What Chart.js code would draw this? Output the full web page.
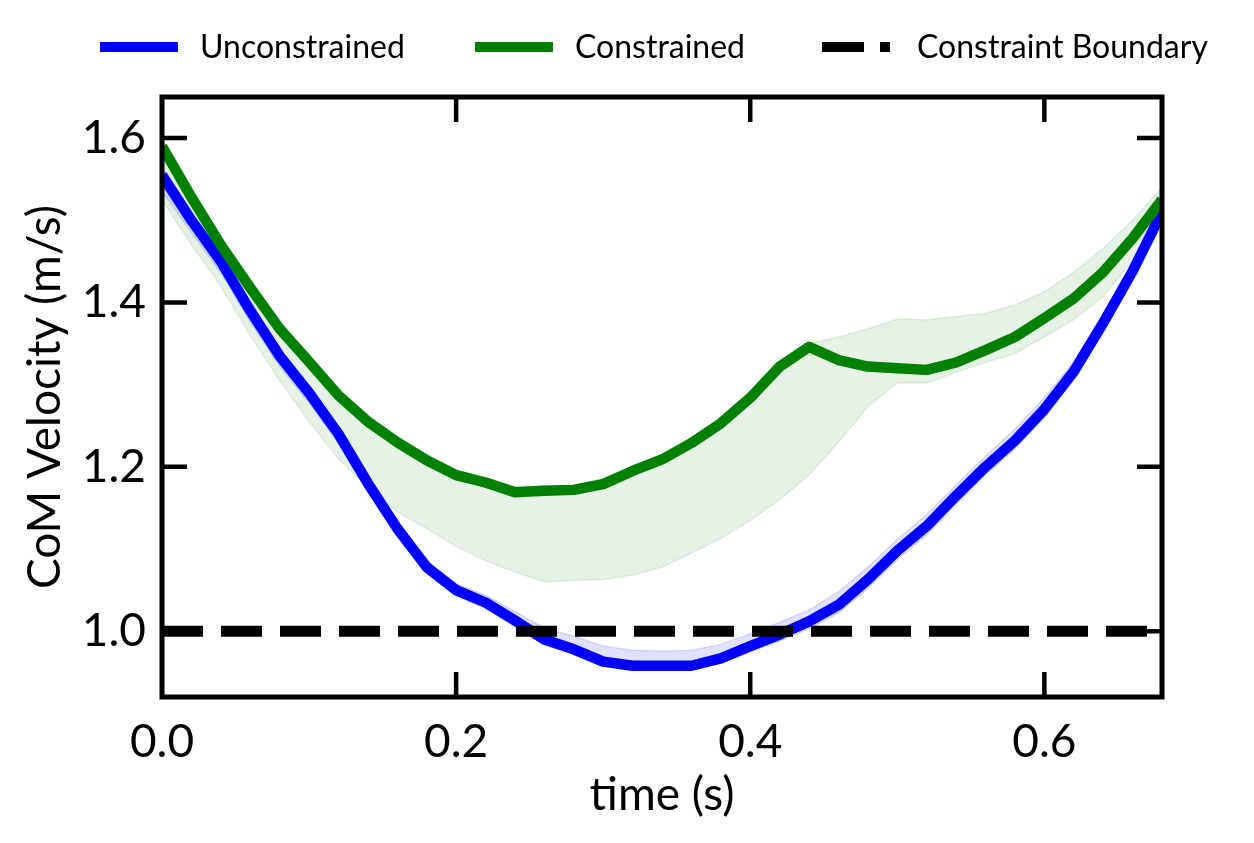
<!DOCTYPE html>
<html>
<head>
<meta charset="utf-8">
<script src="https://cdn.jsdelivr.net/npm/chart.js@4.4.0/dist/chart.umd.min.js"></script>
<style>
  body { margin: 0; background: #fff; }
  #wrap { width: 1254px; height: 843px; }
</style>
</head>
<body>
<div id="wrap"><canvas id="velChart" width="1254" height="843"></canvas></div>
<script>
const times = [0, 0.02, 0.04, 0.06, 0.08, 0.10, 0.12, 0.14, 0.16, 0.18, 0.20, 0.22,
    0.24, 0.26, 0.28, 0.30, 0.32, 0.34, 0.36, 0.38, 0.40, 0.42, 0.44, 0.46,
    0.48, 0.50, 0.52, 0.54, 0.56, 0.58, 0.60, 0.62, 0.64, 0.66, 0.68];

const unconstrained = [1.555, 1.50, 1.45, 1.39, 1.335, 1.29, 1.24, 1.18, 1.125, 1.078, 1.05, 1.035,
    1.013, 0.99, 0.978, 0.963, 0.958, 0.958, 0.958, 0.967, 0.982, 0.996, 1.012, 1.032,
    1.063, 1.098, 1.128, 1.165, 1.20, 1.232, 1.27, 1.316, 1.375, 1.438, 1.51];
const unconstrainedUpper = [1.565, 1.51, 1.458, 1.398, 1.342, 1.296, 1.246, 1.186, 1.132, 1.086, 1.058, 1.044,
    1.024, 1.004, 0.994, 0.982, 0.977, 0.976, 0.977, 0.984, 0.997, 1.011, 1.026, 1.048,
    1.078, 1.112, 1.142, 1.178, 1.213, 1.246, 1.284, 1.328, 1.386, 1.448, 1.52];
const unconstrainedLower = [1.535, 1.485, 1.436, 1.376, 1.322, 1.278, 1.229, 1.17, 1.116, 1.07, 1.043, 1.028,
    1.007, 0.985, 0.974, 0.96, 0.955, 0.955, 0.955, 0.962, 0.975, 0.988, 1.003, 1.022,
    1.052, 1.087, 1.117, 1.154, 1.19, 1.222, 1.26, 1.306, 1.366, 1.43, 1.505];

const constrained = [1.59, 1.528, 1.47, 1.418, 1.368, 1.328, 1.287, 1.255, 1.23, 1.208, 1.19, 1.181,
    1.169, 1.171, 1.172, 1.179, 1.195, 1.209, 1.229, 1.253, 1.284, 1.322, 1.346, 1.33,
    1.322, 1.32, 1.318, 1.327, 1.342, 1.358, 1.381, 1.405, 1.437, 1.478, 1.525];
const constrainedUpper = [1.60, 1.54, 1.475, 1.42, 1.372, 1.33, 1.292, 1.26, 1.235, 1.213, 1.196, 1.186,
    1.176, 1.177, 1.178, 1.186, 1.20, 1.214, 1.234, 1.258, 1.29, 1.326, 1.35, 1.358,
    1.368, 1.38, 1.379, 1.383, 1.387, 1.397, 1.413, 1.437, 1.466, 1.50, 1.54];
const constrainedLower = [1.525, 1.47, 1.42, 1.36, 1.305, 1.255, 1.21, 1.175, 1.145, 1.125, 1.103, 1.086,
    1.072, 1.06, 1.062, 1.063, 1.068, 1.078, 1.095, 1.113, 1.135, 1.16, 1.19, 1.23,
    1.273, 1.302, 1.302, 1.315, 1.327, 1.338, 1.358, 1.379, 1.407, 1.45, 1.51];

const boundaryTimes = [0, 0.68];
const boundaryValues = [1.0, 1.0];

const xTicks = [0.0, 0.2, 0.4, 0.6];
const yTicks = [1.0, 1.2, 1.4, 1.6];

const legendItems = [
    { text: "Unconstrained", color: "#0000ff", dash: [], x: 100, len: 78 },
    { text: "Constrained", color: "#008000", dash: [], x: 475, len: 78 },
    { text: "Constraint Boundary", color: "#000000", dash: [42, 16], x: 822, len: 68 }
];

const fontFamily = "Lato, 'Noto Sans', sans-serif";

function toPoints(xs, ys) {
    return xs.map((t, i) => ({ x: t, y: ys[i] }));
}

function band(values, color, fill, order) {
    return {
        data: toPoints(times, values),
        borderColor: color,
        borderWidth: 1.5,
        backgroundColor: color,
        pointRadius: 0,
        fill: fill,
        order: order
    };
}

// inward ticks on all four sides + black frame
const framePlugin = {
    id: "frame",
    afterDraw(chart) {
        const { ctx, chartArea: a, scales } = chart;
        const len = 25;
        ctx.save();
        ctx.strokeStyle = "#000";
        ctx.lineWidth = 4.5;
        xTicks.filter(v => v > 0).forEach(v => {
            const px = scales.x.getPixelForValue(v);
            ctx.beginPath();
            ctx.moveTo(px, a.bottom); ctx.lineTo(px, a.bottom - len);
            ctx.moveTo(px, a.top); ctx.lineTo(px, a.top + len);
            ctx.stroke();
        });
        yTicks.forEach(v => {
            const py = scales.y.getPixelForValue(v);
            ctx.beginPath();
            ctx.moveTo(a.left, py); ctx.lineTo(a.left + len, py);
            ctx.moveTo(a.right, py); ctx.lineTo(a.right - len, py);
            ctx.stroke();
        });
        ctx.lineWidth = 5;
        ctx.strokeRect(a.left, a.top, a.right - a.left, a.bottom - a.top);
        ctx.restore();
    }
};

const legendPlugin = {
    id: "topLegend",
    afterDraw(chart) {
        const ctx = chart.ctx;
        const y = 47;
        ctx.save();
        ctx.font = "32px " + fontFamily;
        ctx.textBaseline = "middle";
        legendItems.forEach(item => {
            ctx.strokeStyle = item.color;
            ctx.lineWidth = 10;
            ctx.setLineDash(item.dash);
            ctx.beginPath();
            ctx.moveTo(item.x, y);
            ctx.lineTo(item.x + item.len, y);
            ctx.stroke();
            ctx.setLineDash([]);
            ctx.fillStyle = "#000";
            ctx.fillText(item.text, item.x + (item.dash.length ? 95 : 100), y + 1);
        });
        ctx.restore();
    }
};

const ctx = document.getElementById("velChart");

new Chart(ctx, {
    type: "line",
    data: {
        datasets: [
            band(unconstrainedLower, "rgba(0, 0, 255, 0.12)", false, 5),
            band(unconstrainedUpper, "rgba(0, 0, 255, 0.12)", "-1", 5),
            band(constrainedLower, "rgba(0, 128, 0, 0.10)", false, 4),
            band(constrainedUpper, "rgba(0, 128, 0, 0.10)", "-1", 4),
            {
                label: "Unconstrained",
                data: toPoints(times, unconstrained),
                borderColor: "#0000ff",
                borderWidth: 10.5,
                borderJoinStyle: "round",
                pointRadius: 0,
                fill: false,
                order: 3
            },
            {
                label: "Constrained",
                data: toPoints(times, constrained),
                borderColor: "#008000",
                borderWidth: 10.5,
                borderJoinStyle: "round",
                pointRadius: 0,
                fill: false,
                order: 2
            },
            {
                label: "Constraint Boundary",
                data: toPoints(boundaryTimes, boundaryValues),
                borderColor: "#000000",
                borderWidth: 11,
                borderDash: [41, 18],
                borderCapStyle: "butt",
                pointRadius: 0,
                fill: false,
                order: 1
            }
        ]
    },
    options: {
        responsive: false,
        devicePixelRatio: 1,
        animation: false,
        layout: { padding: { top: 97, right: 92, left: 0, bottom: 0 } },
        plugins: {
            legend: { display: false },
            tooltip: { enabled: false }
        },
        scales: {
            x: {
                type: "linear",
                min: 0,
                max: 0.68,
                afterBuildTicks: s => { s.ticks = xTicks.map(v => ({ value: v })); },
                afterFit: s => { s.height = 146; },
                grid: { display: false },
                border: { display: false },
                ticks: {
                    padding: 10,
                    color: "#000",
                    font: { family: fontFamily, size: 46 },
                    callback: v => v.toFixed(1),
                    maxRotation: 0
                },
                title: {
                    display: true,
                    text: "time (s)",
                    color: "#000",
                    font: { family: fontFamily, size: 46 },
                    padding: { top: 0, bottom: 20 }
                }
            },
            y: {
                type: "linear",
                min: 0.92,
                max: 1.65,
                afterBuildTicks: s => { s.ticks = yTicks.map(v => ({ value: v })); },
                afterFit: s => { s.width = 162; },
                grid: { display: false },
                border: { display: false },
                ticks: {
                    padding: 8,
                    color: "#000",
                    font: { family: fontFamily, size: 46 },
                    callback: v => v.toFixed(1)
                },
                title: {
                    display: true,
                    text: "CoM Velocity (m/s)",
                    color: "#000",
                    font: { family: fontFamily, size: 46 },
                    padding: { top: 18, bottom: 0 }
                }
            }
        }
    },
    plugins: [framePlugin, legendPlugin]
});
</script>
</body>
</html>
